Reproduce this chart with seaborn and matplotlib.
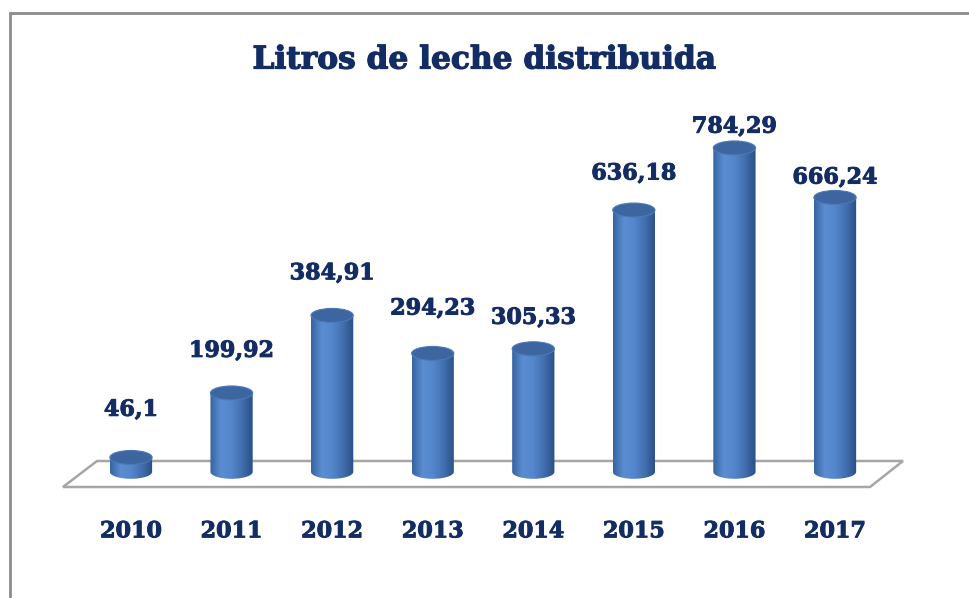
import numpy as np
import matplotlib.pyplot as plt
import matplotlib.patheffects as pe
import seaborn as sns
from matplotlib.colors import LinearSegmentedColormap
from matplotlib.patches import Ellipse, Polygon, Rectangle

years = ['2010', '2011', '2012', '2013', '2014', '2015', '2016', '2017']
litros = [46.1, 199.92, 384.91, 294.23, 305.33, 636.18, 784.29, 666.24]
etiquetas = ['46,1', '199,92', '384,91', '294,23', '305,33', '636,18', '784,29', '666,24']
# label gap above each cylinder (points), as Excel placed them
label_gap = [30, 26, 26, 28, 18, 22, 11, 10]

NAVY = '#132c64'
BODY = LinearSegmentedColormap.from_list(
    'cyl', ['#3763a0', '#5a8dd1', '#5486cb', '#416fae', '#2a4e84'])
BOLDER = [pe.withStroke(linewidth=0.7, foreground=NAVY)]

sns.set_style('white')
plt.rcParams['font.family'] = ['DejaVu Serif']

fig = plt.figure(figsize=(9.69, 5.98), dpi=100)
PX = 0.4193   # pixels per litre unit
Y0 = 476.8    # pixel row of value 0
ax = fig.add_axes([80.7 / 969, (598 - 512) / 598, 804.6 / 969, 417 / 598])
sns.barplot(x=years, y=litros, width=0.42, color='#4f81bd', ax=ax)

ylim = ((Y0 - 512) / PX, (Y0 - 95) / PX)
cap = 14 / PX
base = 5 / PX  # cylinders stand slightly inside the floor plate

# floor plate
floor = Polygon([(-0.338, (Y0 - 461) / PX), (7.676, (Y0 - 461) / PX),
                 (7.348, (Y0 - 487) / PX), (-0.676, (Y0 - 487) / PX)],
                closed=True, facecolor='white', edgecolor='#a6a6a6', lw=1.8,
                zorder=1, clip_on=False)
ax.add_patch(floor)

grad = np.linspace(0, 1, 256).reshape(1, -1)
for p, lbl, gap in zip(list(ax.patches)[:len(litros)], etiquetas, label_gap):
    x0, w, h = p.get_x(), p.get_width(), p.get_height()
    cx = x0 + w / 2
    p.set_visible(False)
    t = np.linspace(0, -np.pi, 60)
    pts = [(x0, h), (x0 + w, h)] + list(zip(cx + w / 2 * np.cos(t), base + cap / 2 * np.sin(t)))
    shape = Polygon(pts, closed=True, facecolor='none', edgecolor='none', zorder=3)
    ax.add_patch(shape)
    im = ax.imshow(grad, extent=[x0, x0 + w, base - cap / 2, h], cmap=BODY,
                   aspect='auto', zorder=3, interpolation='bilinear')
    im.set_clip_path(shape)
    ax.add_patch(Ellipse((cx, h), w, cap, facecolor='#3d66a0',
                         edgecolor='#4d79b6', lw=0.8, zorder=4))
    ax.annotate(lbl, (cx, h), xytext=(0, gap), textcoords='offset points',
                ha='center', va='baseline', fontsize=16, fontweight='bold',
                color=NAVY, path_effects=BOLDER)

ax.set_xlim(-0.5, 7.5)
ax.set_ylim(*ylim)
ax.set_yticks([])
ax.set_xlabel('')
ax.set_ylabel('')
ax.tick_params(axis='x', length=0, pad=6, labelsize=16, labelcolor=NAVY)
for tl in ax.get_xticklabels():
    tl.set_fontweight('bold')
    tl.set_path_effects(BOLDER)
sns.despine(ax=ax, left=True, bottom=True)

fig.text(0.5, 1 - 60 / 598, 'Litros de leche distribuida', ha='center', va='center',
         fontsize=22.5, fontweight='bold', color=NAVY,
         path_effects=[pe.withStroke(linewidth=0.9, foreground=NAVY)])

# chart frame (only top/left visible in the crop)
fig.add_artist(Rectangle((10 / 969, -0.2), 1.5, 1.2 - 13 / 598, transform=fig.transFigure,
                         fill=False, edgecolor='#8c8c8c', lw=2))

fig.savefig('out.png', dpi=100)
